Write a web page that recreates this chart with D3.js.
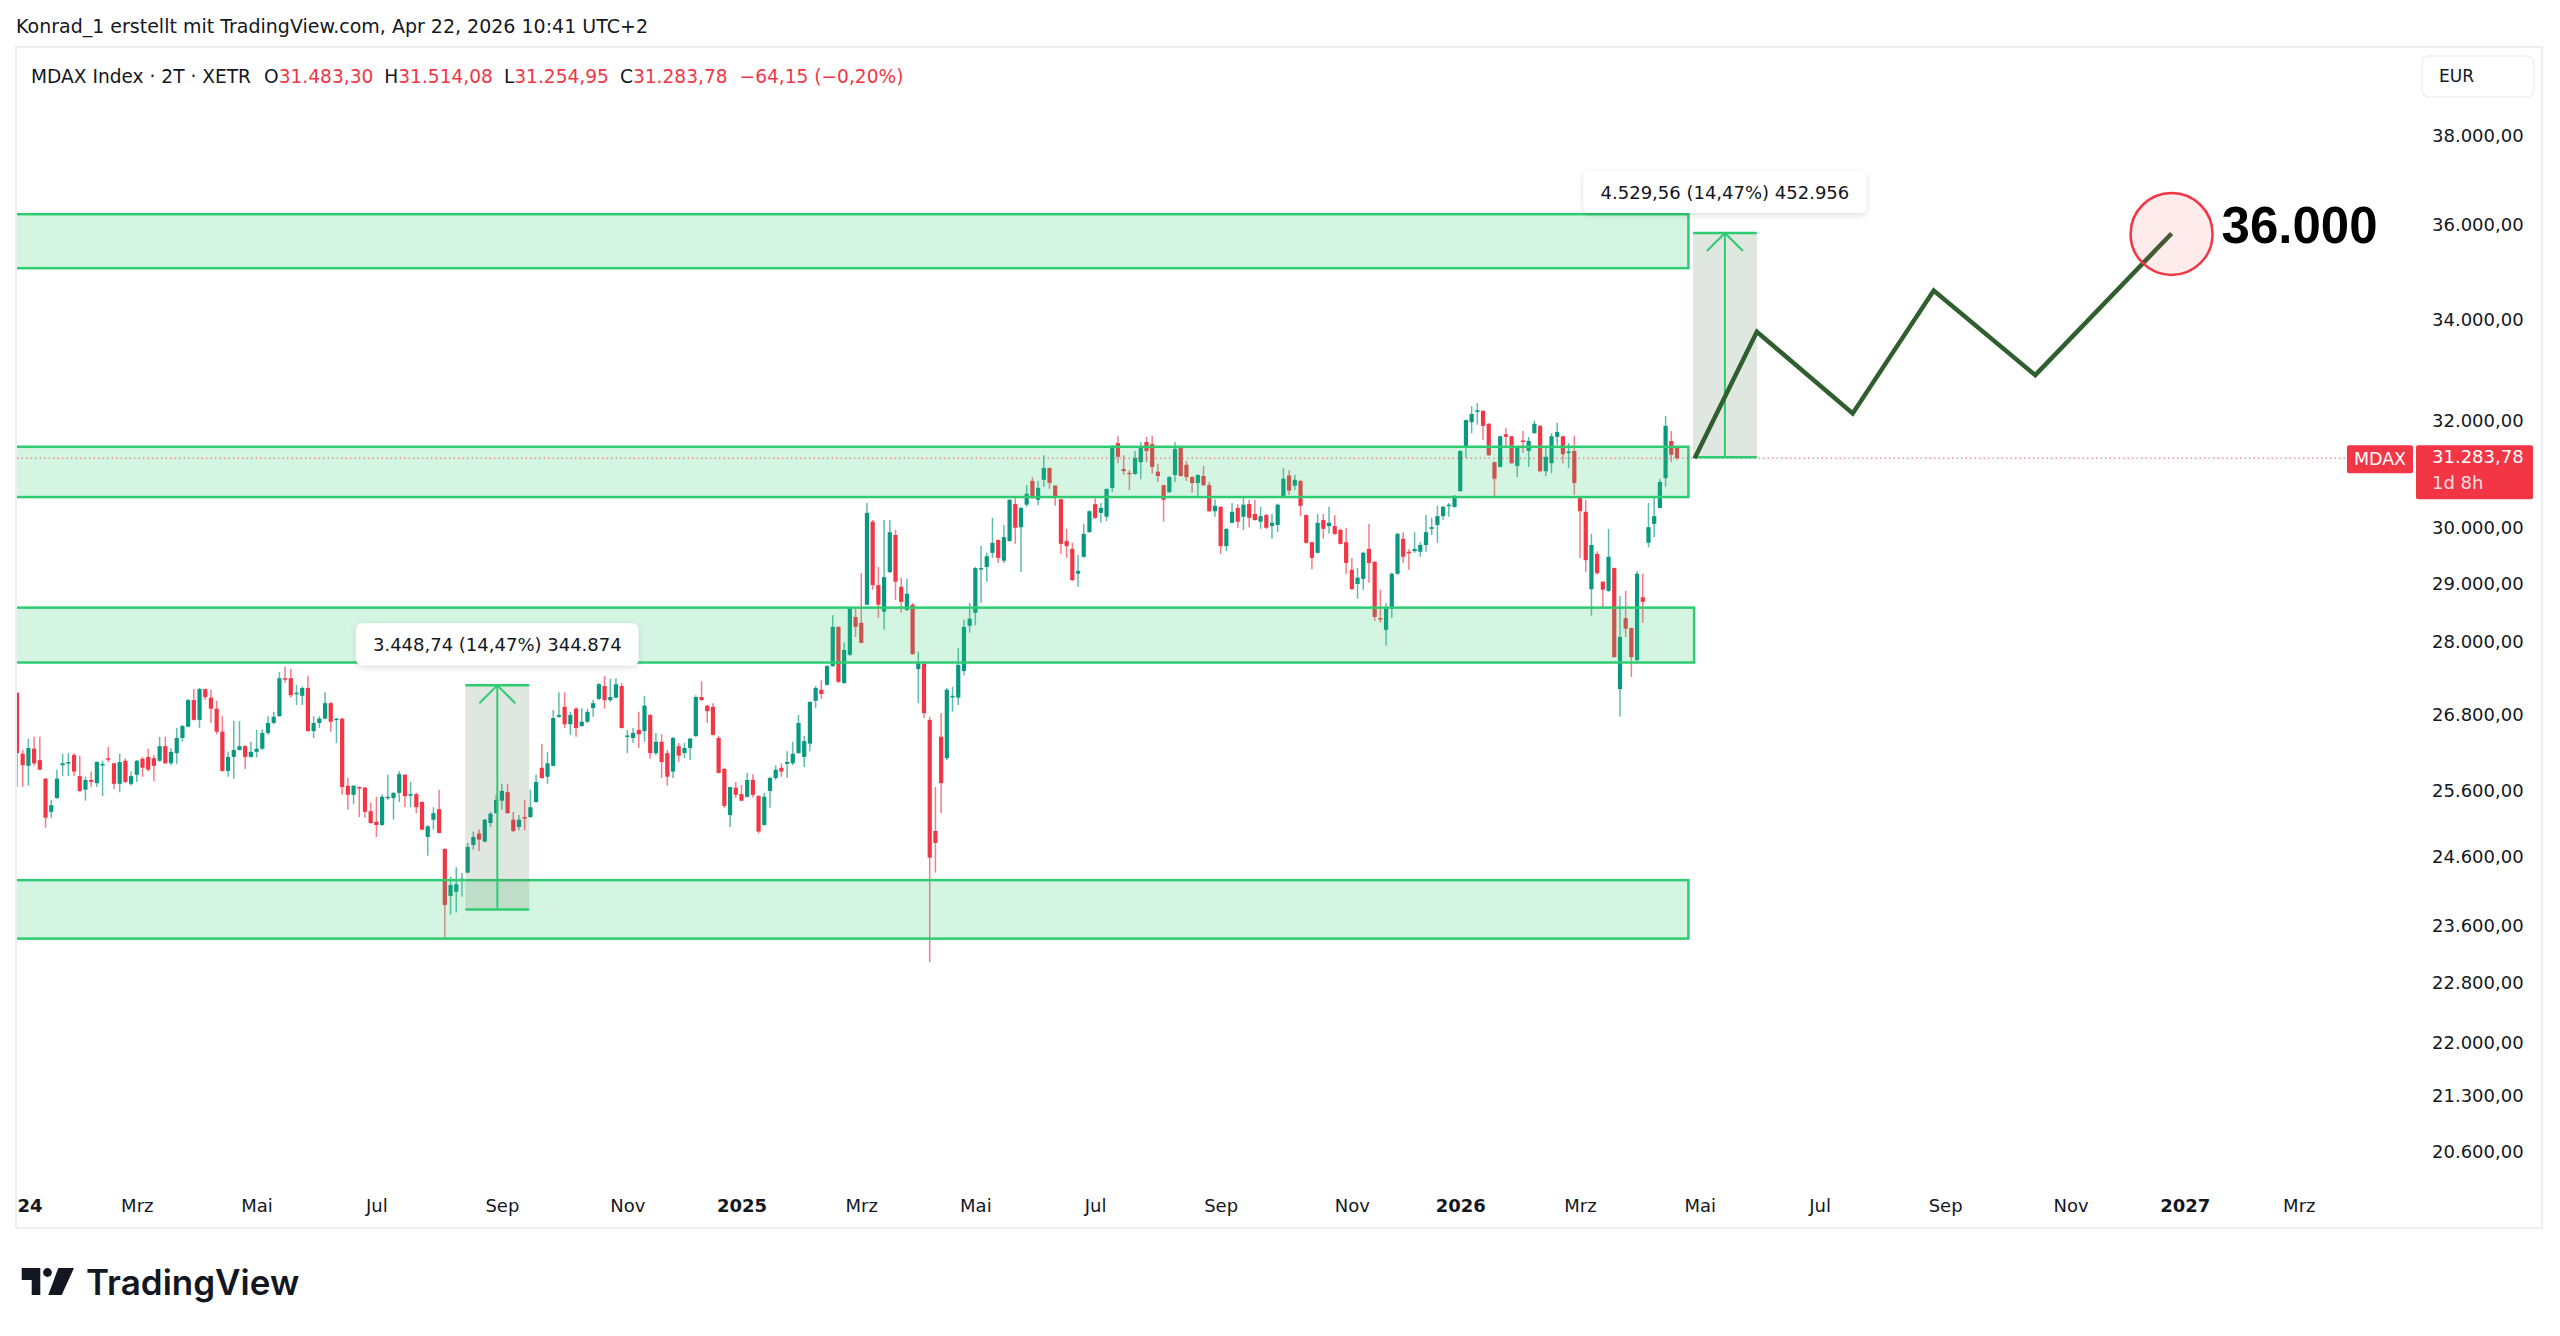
<!DOCTYPE html>
<html><head><meta charset="utf-8">
<script src="https://cdn.jsdelivr.net/npm/d3@7"></script>
<style>
html,body{margin:0;padding:0;background:#fff;}
svg{display:block;}
</style></head><body>
<svg id="chart" width="2560" height="1336"></svg>
<script>
// ---------------- DATA ----------------
const holidays = ["2024-01-01","2024-03-29","2024-04-01","2024-05-01","2024-12-24","2024-12-25","2024-12-26","2024-12-31",
  "2025-01-01","2025-04-18","2025-04-21","2025-05-01","2025-12-24","2025-12-25","2025-12-26","2025-12-31",
  "2026-01-01","2026-04-03","2026-04-06","2026-05-01","2026-12-24","2026-12-25","2026-12-31",
  "2027-01-01","2027-03-26","2027-03-29"];
// 2-day candles (2T), first bar = 2024-01-02
const open = [27160,26180,25990,26260,26080,25790,25280,25490,26000,26030,26160,25830,25620,25770,25720,26000,26110,26030,25710,26070,
25710,25850,26100,26130,26110,26070,26300,26030,26190,26430,26610,27040,26720,27220,27080,26900,26530,25910,26130,26240,
26300,26130,26210,26260,26510,26670,26780,27400,27400,27140,27110,27240,26540,26670,26740,26990,26720,26740,25680,25540,
25660,25650,25290,25130,25080,25490,25490,25570,25850,25540,25550,25430,24900,25160,25320,24720,24030,24090,24260,24370,
24780,24950,24830,25110,25260,25450,25580,25160,25050,25200,25200,25430,25960,25820,25990,26770,26930,26650,26900,26620,
26690,26910,27060,27270,27040,27080,27270,26450,26430,26560,26540,26800,26190,26370,26190,25900,26300,26190,26270,26460,
27090,26950,26930,26430,25940,25230,25650,25550,25510,25770,25520,25080,25600,25800,25960,26020,26030,26190,26130,26340,
27030,27210,27290,27600,28260,27320,27790,28430,28330,28640,30110,28980,28520,29210,29870,28950,28550,28640,27550,27640,
26720,24990,26450,26110,27090,27080,27520,28280,28500,29260,29300,29550,29780,29410,29760,30430,30010,30420,30860,30510,
30880,31100,30770,30520,29760,29620,29180,29480,29920,30430,30270,30200,30730,31570,31080,31010,30990,31210,31590,31550,
31030,30780,30650,30970,31500,31160,30930,30820,30950,30780,30300,30380,29670,30090,30360,30200,30430,30250,30110,30230,
30030,30050,30560,30960,30770,30860,30230,29740,29550,30140,30030,30030,29960,29740,29250,29000,29090,29620,29390,28410,
28210,28580,29180,29800,29570,29580,29570,29690,29980,30050,30210,30400,30380,30670,31500,31970,32180,32190,31940,31210,
31120,31740,31700,31140,31620,31420,31760,31900,31040,31190,31690,31700,31390,31420,30560,30290,28910,29530,29040,28880,
29280,27220,28410,28240,27700,28770,29730,30070,30360,30910,31610,31483.30];
const high = [27170,26240,26420,26450,26450,25800,25460,25930,26180,26190,26190,26150,25820,25900,26060,26070,26290,26040,26180,26110,
25900,26080,26130,26260,26160,26450,26450,26270,26590,26640,27060,27220,27240,27230,27210,27030,26780,26210,26700,26700,
26320,26370,26560,26570,26780,26850,27500,27590,27550,27290,27260,27440,26780,26780,27170,27010,26750,26750,25800,25690,
25670,25660,25420,25510,25550,25850,25580,25910,25860,25740,25570,25440,25080,25350,25620,24730,24310,24450,24370,24810,
24980,25010,25170,25280,25540,25710,25710,25280,25230,25460,25620,25850,26340,26210,26880,27170,27170,26850,26930,26910,
26900,27040,27320,27440,27390,27400,27320,26560,26590,26850,27110,26810,26510,26490,26240,26450,26350,26350,26430,27120,
27350,26960,26990,26460,25960,25660,25740,25690,25880,25860,25540,25570,25820,26000,26030,26220,26370,26800,26460,27020,
27270,27370,27620,28460,28270,28000,28600,28570,29190,30450,30140,29300,30140,30140,29960,29110,29090,28670,27840,27670,
26770,25660,26830,27240,27260,27900,28380,28670,29300,29670,29550,30180,29790,30050,30520,30540,30380,30780,30930,30860,
31340,31110,30780,30530,29980,29730,29510,30070,30320,30540,30450,30720,31530,31710,31340,31060,31420,31590,31690,31710,
31180,30790,30950,31590,31510,31230,30950,30980,31140,30840,30520,30390,29990,30450,30430,30540,30510,30510,30380,30250,
30250,30440,31100,31060,30970,30870,30240,29750,30250,30250,30380,30230,29980,30000,29460,29280,29570,30070,29400,28900,
28670,29200,29910,29920,29620,29920,29740,30230,30180,30400,30400,30450,30600,31430,32020,32280,32340,32200,31950,31220,
31710,31860,31710,31510,31800,31690,32000,31910,31480,31760,31960,31710,31570,31710,30570,30510,29890,29580,29050,29980,
29290,28790,28880,28250,29230,29180,30450,30560,30900,32090,31800,31514.08];
const low = [25660,25660,25680,25990,25920,25040,25190,25480,25830,25830,25830,25580,25450,25660,25660,25520,26050,25630,25580,25720,
25680,25740,25820,25900,25750,26050,26020,26000,26020,26370,26600,26710,26590,27040,26670,26490,25900,25820,25790,26230,
25940,26120,26120,26240,26480,26650,26770,27320,27080,26960,26960,26530,26430,26590,26730,26530,26350,25540,25310,25400,
25200,25190,25100,24900,25070,25460,25160,25430,25350,25350,25260,25000,24620,25010,24950,23430,23760,23790,24020,24360,
24710,24690,24820,25050,25250,25310,25250,24970,25000,25000,25190,25420,25790,25710,25980,26750,26590,26480,26450,26610,
26670,26770,27040,26900,27010,27070,26580,26190,26350,26270,26370,26100,26160,25800,25680,25800,26050,26110,26080,26450,
27030,26670,26470,25870,25340,25050,25490,25440,25500,25500,24950,25070,25340,25770,25820,25800,26000,26180,25970,26220,
26910,27060,27280,27590,27320,27310,27770,28090,27980,28630,28900,28410,28210,29190,28720,28500,28530,27790,26990,26750,
23090,24370,25260,26080,26850,26960,27450,28160,28290,28670,29040,29460,29370,29370,29750,29710,29210,30380,30530,30410,
30750,30710,30400,29530,29460,29050,28950,29460,29910,30160,30090,30120,30650,31190,30970,30690,30970,30890,31210,30990,
30840,30110,30640,30840,30940,30860,30640,30560,30760,30290,30200,29530,29580,30080,30000,29960,30010,30130,29980,29980,
29800,29920,30550,30600,30690,30210,29710,29260,29540,29800,29890,29870,29700,29180,28900,28740,28900,29020,28360,28330,
27940,28410,29160,29370,29250,29550,29480,29570,29870,29730,30140,30200,30360,30660,31290,31760,31920,31630,31330,30560,
31110,31500,31180,30930,31380,31120,31750,31020,30950,31000,31530,31190,31100,30600,29460,29210,28450,29160,28580,28860,
27740,26770,28090,27420,27670,28330,29650,29830,30350,30750,31210,31254.95];
const close = [26190,26000,26270,26030,25930,25190,25380,25790,26030,26050,25900,25600,25770,25740,26050,26020,26100,25710,26050,25740,
25830,26070,25960,25930,25990,26300,26030,26210,26430,26620,27040,26720,27220,27090,26900,26530,25910,26130,26240,26300,
26130,26210,26260,26510,26670,26770,27400,27390,27120,27160,27240,26540,26670,26740,26990,26690,26740,25660,25540,25680,
25650,25280,25110,25080,25510,25510,25570,25860,25520,25550,25350,25010,25060,25260,24960,23900,24190,24200,24280,24750,
24900,24860,25160,25250,25460,25600,25260,24990,25160,25190,25350,25740,25800,26030,26750,26800,26650,26800,26590,26690,
26850,26990,27300,27040,27090,27300,26590,26470,26510,26490,26950,26190,26370,26050,25820,26430,26150,26270,26420,27090,
27040,26860,26480,25880,25370,25660,25540,25450,25770,25540,24980,25510,25800,25930,25900,26050,26180,26670,26380,27010,
27240,27140,27600,28260,27340,27870,28580,28260,27990,30270,28980,28640,29120,29920,29040,28690,28830,27800,27650,26830,
24590,24810,25720,27210,27110,27620,28260,28400,29280,29280,29490,29730,29460,29830,30510,30000,30360,30620,30540,30730,
31100,30820,30580,29710,29670,29070,29230,29890,30300,30180,30360,30710,31520,31310,31040,30990,31290,31480,31420,31120,
30950,30510,30930,31460,30950,30930,30820,30970,30780,30300,30400,29670,29980,30290,30110,30420,30180,30140,30210,30000,
30090,30420,30900,30680,30880,30400,29730,29460,30090,29980,30090,29890,29710,29370,28910,29110,29550,29370,28430,28400,
28580,29180,29890,29480,29550,29620,29690,29920,30010,30210,30380,30420,30580,31420,32010,32130,32200,31900,31340,30900,
31700,31690,31190,31500,31600,31610,31940,31040,31310,31700,31780,31360,31410,30820,30300,29420,29690,29190,28900,29480,
27750,28090,28230,27750,29180,28690,30010,30210,30840,31900,31347.93,31283.78];

const yTicks = [38000,36000,34000,32000,30000,29000,28000,26800,25600,24600,23600,22800,22000,21300,20600];
const tickMonths = ["2024-01","2024-03","2024-05","2024-07","2024-09","2024-11","2025-01","2025-03","2025-05","2025-07","2025-09","2025-11",
  "2026-01","2026-03","2026-05","2026-07","2026-09","2026-11","2027-01","2027-03"];
const monthNames = ["Jan","Feb","Mrz","Apr","Mai","Jun","Jul","Aug","Sep","Okt","Nov","Dez"];

// horizontal zones (rectangles)
const zoneHigh = [36240, 31500, 28590, 24260];
const zoneLow  = [35080, 30560, 27660, 23420];
const zoneEndBar = [293, 293, 294, 293];

// price range measurements
const measureStartBar = [78.6, 293.8];
const measureEndBar   = [89.8, 305];
const measureFrom = [23834, 31303];
const measureTo   = [27282.74, 35832.56];
const measureText = ["3.448,74 (14,47%) 344.874", "4.529,56 (14,47%) 452.956"];

// projected path
const pathBars   = [294.1, 305, 321.8, 336, 353.8, 377.7];
const pathPrices = [31283.78, 33760, 32140, 34610, 32890, 35820];
const targetLabel = "36.000";
const targetBar = 377.7, targetPrice = 35810;

// ---------------- SETUP ----------------
const UP = "#089981", DOWN = "#f23645", TXT = "#131722", ZONE = "#2ecc71";
const FONT = "'DejaVu Sans', sans-serif";
const svg = d3.select("#chart");
const N = close.length;

const de = d3.formatLocale({decimal: ",", thousands: ".", grouping: [3], currency: ["", "€"], minus: "\u2212"});
const fmt2 = de.format(",.2f");

const x = d3.scaleLinear().domain([0, N - 1]).range([17, 1677]);
const y = d3.scaleLog().domain([20600, 38000]).range([1151.5, 135.5]);

// trading calendar
const hol = new Set(holidays);
const tdays = [];
for (let d = new Date(Date.UTC(2024, 0, 1)); d <= new Date(Date.UTC(2027, 5, 30)); d.setUTCDate(d.getUTCDate() + 1)) {
  const wd = d.getUTCDay();
  if (wd === 0 || wd === 6) continue;
  const s = d.toISOString().slice(0, 10);
  if (hol.has(s)) continue;
  tdays.push(s);
}
const tickBars = tickMonths.map(m => Math.floor(tdays.findIndex(s => s.startsWith(m)) / 2));
const tickLabels = tickMonths.map(m => m.endsWith("-01") ? m.slice(0, 4) : monthNames[+m.slice(5) - 1]);

const defs = svg.append("defs");
defs.append("clipPath").attr("id", "plotClip").append("rect").attr("x", 17).attr("y", 47).attr("width", 2398).attr("height", 1133);
defs.append("clipPath").attr("id", "xClip").append("rect").attr("x", 17).attr("y", 1180).attr("width", 2398).attr("height", 48);
const sh = defs.append("filter").attr("id", "shadow").attr("x", "-20%").attr("y", "-40%").attr("width", "140%").attr("height", "180%");
sh.append("feDropShadow").attr("dx", 0).attr("dy", 2).attr("stdDeviation", 3).attr("flood-color", "#000").attr("flood-opacity", 0.14);

// header
svg.append("text").attr("x", 16).attr("y", 33).attr("font-family", FONT).attr("font-size", 19).attr("fill", TXT)
  .text("Konrad_1 erstellt mit TradingView.com, Apr 22, 2026 10:41 UTC+2");

// panel border
svg.append("rect").attr("x", 16).attr("y", 47).attr("width", 2526).attr("height", 1181)
  .attr("fill", "none").attr("stroke", "#eceef2").attr("stroke-width", 2);

// legend
const last = N - 1;
const legColor = close[last] >= open[last] ? UP : DOWN;
const chg = close[last] - close[last - 1];
const leg = svg.append("text").attr("x", 31).attr("y", 83).attr("font-family", FONT).attr("font-size", 18.6).attr("fill", TXT);
leg.append("tspan").text("MDAX Index · 2T · XETR");
[["O", open[last]], ["H", high[last]], ["L", low[last]], ["C", close[last]]].forEach(([k, v], i) => {
  leg.append("tspan").attr("dx", i === 0 ? 13 : 11).text(k);
  leg.append("tspan").attr("fill", legColor).text(fmt2(v));
});
leg.append("tspan").attr("dx", 12).attr("fill", legColor)
  .text(fmt2(chg) + " (" + fmt2(chg / close[last - 1] * 100) + "%)");

// EUR button
svg.append("rect").attr("x", 2422).attr("y", 56).attr("width", 112).attr("height", 41).attr("rx", 7)
  .attr("fill", "#fff").attr("stroke", "#eef0f3").attr("stroke-width", 1.5);
svg.append("text").attr("x", 2439).attr("y", 82).attr("font-family", FONT).attr("font-size", 17).attr("fill", TXT).text("EUR");

// ---------------- CANDLES ----------------
const plot = svg.append("g").attr("clip-path", "url(#plotClip)");
const idx = d3.range(N);
plot.append("g").selectAll("line").data(idx).join("line")
  .attr("x1", i => x(i)).attr("x2", i => x(i))
  .attr("y1", i => y(high[i])).attr("y2", i => y(low[i]))
  .attr("stroke", i => close[i] >= open[i] ? UP : DOWN)
  .attr("stroke-width", 1.5).attr("opacity", 0.65);
plot.append("g").selectAll("rect").data(idx).join("rect")
  .attr("x", i => x(i) - 2.1).attr("width", 4.2)
  .attr("y", i => y(Math.max(open[i], close[i])))
  .attr("height", i => Math.max(1.5, y(Math.min(open[i], close[i])) - y(Math.max(open[i], close[i]))))
  .attr("fill", i => close[i] >= open[i] ? UP : DOWN);

// current price dotted line
const lastY = y(close[last]);
svg.append("line").attr("x1", 17).attr("x2", 2347).attr("y1", lastY).attr("y2", lastY)
  .attr("stroke", DOWN).attr("stroke-opacity", 0.55).attr("stroke-width", 1.5).attr("stroke-dasharray", "1.5,3");

// zones
plot.append("g").selectAll("rect").data(zoneHigh.map((h, i) => i)).join("rect")
  .attr("x", -40).attr("width", i => x(zoneEndBar[i]) + 40)
  .attr("y", i => y(zoneHigh[i])).attr("height", i => y(zoneLow[i]) - y(zoneHigh[i]))
  .attr("fill", "rgba(46,204,113,0.2)").attr("stroke", ZONE).attr("stroke-width", 2.5);

// measurements
const mg = svg.append("g");
measureFrom.forEach((f, i) => {
  const x0 = x(measureStartBar[i]), x1 = x(measureEndBar[i]);
  const yT = y(measureTo[i]), yB = y(f), cx = (x0 + x1) / 2;
  mg.append("rect").attr("x", x0).attr("y", yT).attr("width", x1 - x0).attr("height", yB - yT)
    .attr("fill", "rgba(100,130,100,0.2)");
  mg.append("line").attr("x1", x0).attr("x2", x1).attr("y1", yT).attr("y2", yT).attr("stroke", ZONE).attr("stroke-width", 2.5);
  mg.append("line").attr("x1", x0).attr("x2", x1).attr("y1", yB).attr("y2", yB).attr("stroke", ZONE).attr("stroke-width", 2.5);
  mg.append("line").attr("x1", cx).attr("x2", cx).attr("y1", yB).attr("y2", yT).attr("stroke", ZONE).attr("stroke-width", 2);
  mg.append("polyline").attr("points", `${cx - 18},${yT + 18} ${cx},${yT} ${cx + 18},${yT + 18}`)
    .attr("fill", "none").attr("stroke", ZONE).attr("stroke-width", 2);
  const lg = mg.append("g");
  const t = lg.append("text").attr("x", cx).attr("y", yT - 34).attr("text-anchor", "middle")
    .attr("font-family", FONT).attr("font-size", 18).attr("fill", TXT).text(measureText[i]);
  const tw = t.node().getComputedTextLength();
  lg.insert("rect", "text").attr("x", cx - tw / 2 - 17).attr("y", yT - 62).attr("width", tw + 34).attr("height", 42)
    .attr("rx", 6).attr("fill", "#fff").attr("filter", "url(#shadow)");
});

// projection path
const pathData = pathBars.map((b, i) => [b, pathPrices[i]]);
svg.append("path").attr("d", d3.line().x(d => x(d[0])).y(d => y(d[1]))(pathData))
  .attr("fill", "none").attr("stroke", "#2f5f2f").attr("stroke-width", 4.5).attr("stroke-linejoin", "miter");

// target circle + label
const tcx = x(targetBar), tcy = y(targetPrice);
svg.append("circle").attr("cx", tcx).attr("cy", tcy).attr("r", 41)
  .attr("fill", "rgba(242,54,69,0.1)").attr("stroke", DOWN).attr("stroke-width", 2.5);
svg.append("text").attr("x", tcx + 50).attr("y", tcy + 9).attr("font-family", "'Liberation Sans', Arial, sans-serif")
  .attr("font-weight", "bold").attr("font-size", 51).attr("fill", "#000").text(targetLabel);

// ---------------- AXES ----------------
const yAxis = d3.axisRight(y).tickValues(yTicks).tickFormat(fmt2).tickSize(0).tickPadding(0);
const ya = svg.append("g").attr("transform", "translate(2432,0)").call(yAxis);
ya.select(".domain").remove();
ya.attr("font-family", FONT).attr("font-size", 18);
ya.selectAll("text").attr("fill", TXT);

const xAxis = d3.axisBottom(x).tickValues(tickBars).tickFormat((d, i) => tickLabels[i]).tickSize(0).tickPadding(0);
const xaOuter = svg.append("g").attr("clip-path", "url(#xClip)");
const xa = xaOuter.append("g").attr("transform", "translate(0,1199)").call(xAxis);
xa.select(".domain").remove();
xa.attr("font-family", FONT).attr("font-size", 18);
xa.selectAll("text").attr("fill", TXT).attr("font-weight", (d, i) => tickMonths[i].endsWith("-01") ? "bold" : "normal");

// price labels on axis
svg.append("rect").attr("x", 2347).attr("y", lastY - 13).attr("width", 66).attr("height", 28).attr("rx", 2).attr("fill", DOWN);
svg.append("text").attr("x", 2380).attr("y", lastY + 7).attr("text-anchor", "middle").attr("font-family", FONT)
  .attr("font-size", 17.5).attr("fill", "#fff").text("MDAX");
svg.append("rect").attr("x", 2416).attr("y", lastY - 13).attr("width", 117).attr("height", 54).attr("rx", 2).attr("fill", DOWN);
svg.append("text").attr("x", 2432).attr("y", lastY + 5).attr("font-family", FONT).attr("font-size", 18).attr("fill", "#fff")
  .text(fmt2(close[last]));
svg.append("text").attr("x", 2432).attr("y", lastY + 31).attr("font-family", FONT).attr("font-size", 18)
  .attr("fill", "#fff").attr("fill-opacity", 0.85).text("1d 8h");

// ---------------- LOGO ----------------
const logo = svg.append("g").attr("fill", "#131722");
logo.append("path").attr("d", "M21.7,1268 H40.3 V1295 H31.7 V1280 H21.7 Z");
logo.append("circle").attr("cx", 47.5).attr("cy", 1272.5).attr("r", 4.4);
logo.append("path").attr("d", "M58.3,1268 H74 L61.7,1295 H48.3 Z");
logo.append("text").attr("x", 86).attr("y", 1295).attr("font-family", "Inter, 'Noto Sans', sans-serif")
  .attr("font-weight", 600).attr("font-size", 35).text("TradingView");
</script>
</body></html>
